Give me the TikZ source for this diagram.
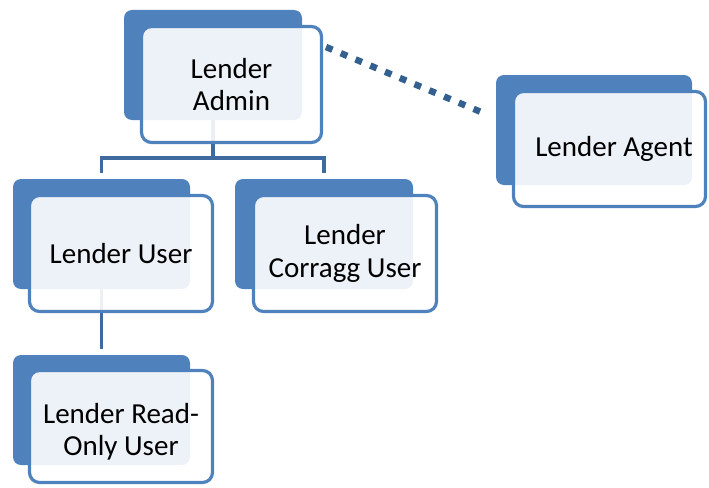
\documentclass[tikz,border=0pt]{standalone}
\usepackage{fontspec}
\setmainfont{Carlito}
\usetikzlibrary{backgrounds}
\definecolor{accent}{HTML}{4F81BD}
\definecolor{connc}{HTML}{3E6A9E}
\definecolor{dotc}{HTML}{33608F}
\begin{document}
\begin{tikzpicture}[x=1pt,y=-1pt,
  backbox/.style={draw=none, fill=accent, rounded corners=8pt, inner sep=0pt},
  frontbox/.style={draw=accent, line width=3.2pt, fill=white, fill opacity=0.9, text opacity=1,
     rounded corners=10pt, inner sep=0pt, align=center, text=black,
     font=\fontsize{29pt}{32.5pt}\selectfont},
  lbl/.style={inner sep=0pt, align=center, text=black, font=\fontsize{29pt}{32.5pt}\selectfont},
  conn/.style={draw=connc, line width=3.6pt},
  dotline/.style={draw=dotc, line width=6.5pt, dash pattern=on 7pt off 9pt}]
\useasboundingbox (0,0) rectangle (709,487);
% back boxes
\node[backbox, minimum width=178pt, minimum height=110pt] (adminB) at (213,65) {};
\node[backbox, minimum width=196pt, minimum height=110pt] (agentB) at (594,130) {};
\node[backbox, minimum width=177pt, minimum height=110pt] (userB) at (101.5,234) {};
\node[backbox, minimum width=178pt, minimum height=110pt] (corrB) at (324,234) {};
\node[backbox, minimum width=177pt, minimum height=110pt] (roB) at (101.5,410) {};
% front boxes
\node[frontbox, minimum width=180pt, minimum height=116pt] (adminF) at (231.5,84.5) {Lender\\[-0.5pt]Admin};
\node[frontbox, minimum width=192pt, minimum height=115pt] (agentF) at (609.5,149) {\hspace*{9pt}Lender Agent};
\node[frontbox, minimum width=183pt, minimum height=116pt] (userF) at (121,253.5) {Lender User};
\node[frontbox, minimum width=183pt, minimum height=116pt] (corrF) at (345,253.5) {Lender\\Corragg User};
\node[frontbox, minimum width=183pt, minimum height=112pt] (roF) at (121,426.5) {};
\node[lbl] (roT) at (121,432) {Lender Read-\\Only User};
% tree connectors
\begin{scope}[on background layer]
\coordinate (bus) at (213,158);
\draw[conn] (adminB.south) -- (bus);
\draw[conn, shorten >=6pt] (bus) -| (userB.north);
\draw[conn, shorten >=6pt] (bus) -| (corrB.north);
\draw[conn, shorten >=6pt] (userB.south) -- (roB.north);
\end{scope}
% dotted association
\coordinate (dotA) at (326,47);
\coordinate (dotB) at (481,112);
\draw[dotline] (dotA) -- (dotB);
\end{tikzpicture}
\end{document}
